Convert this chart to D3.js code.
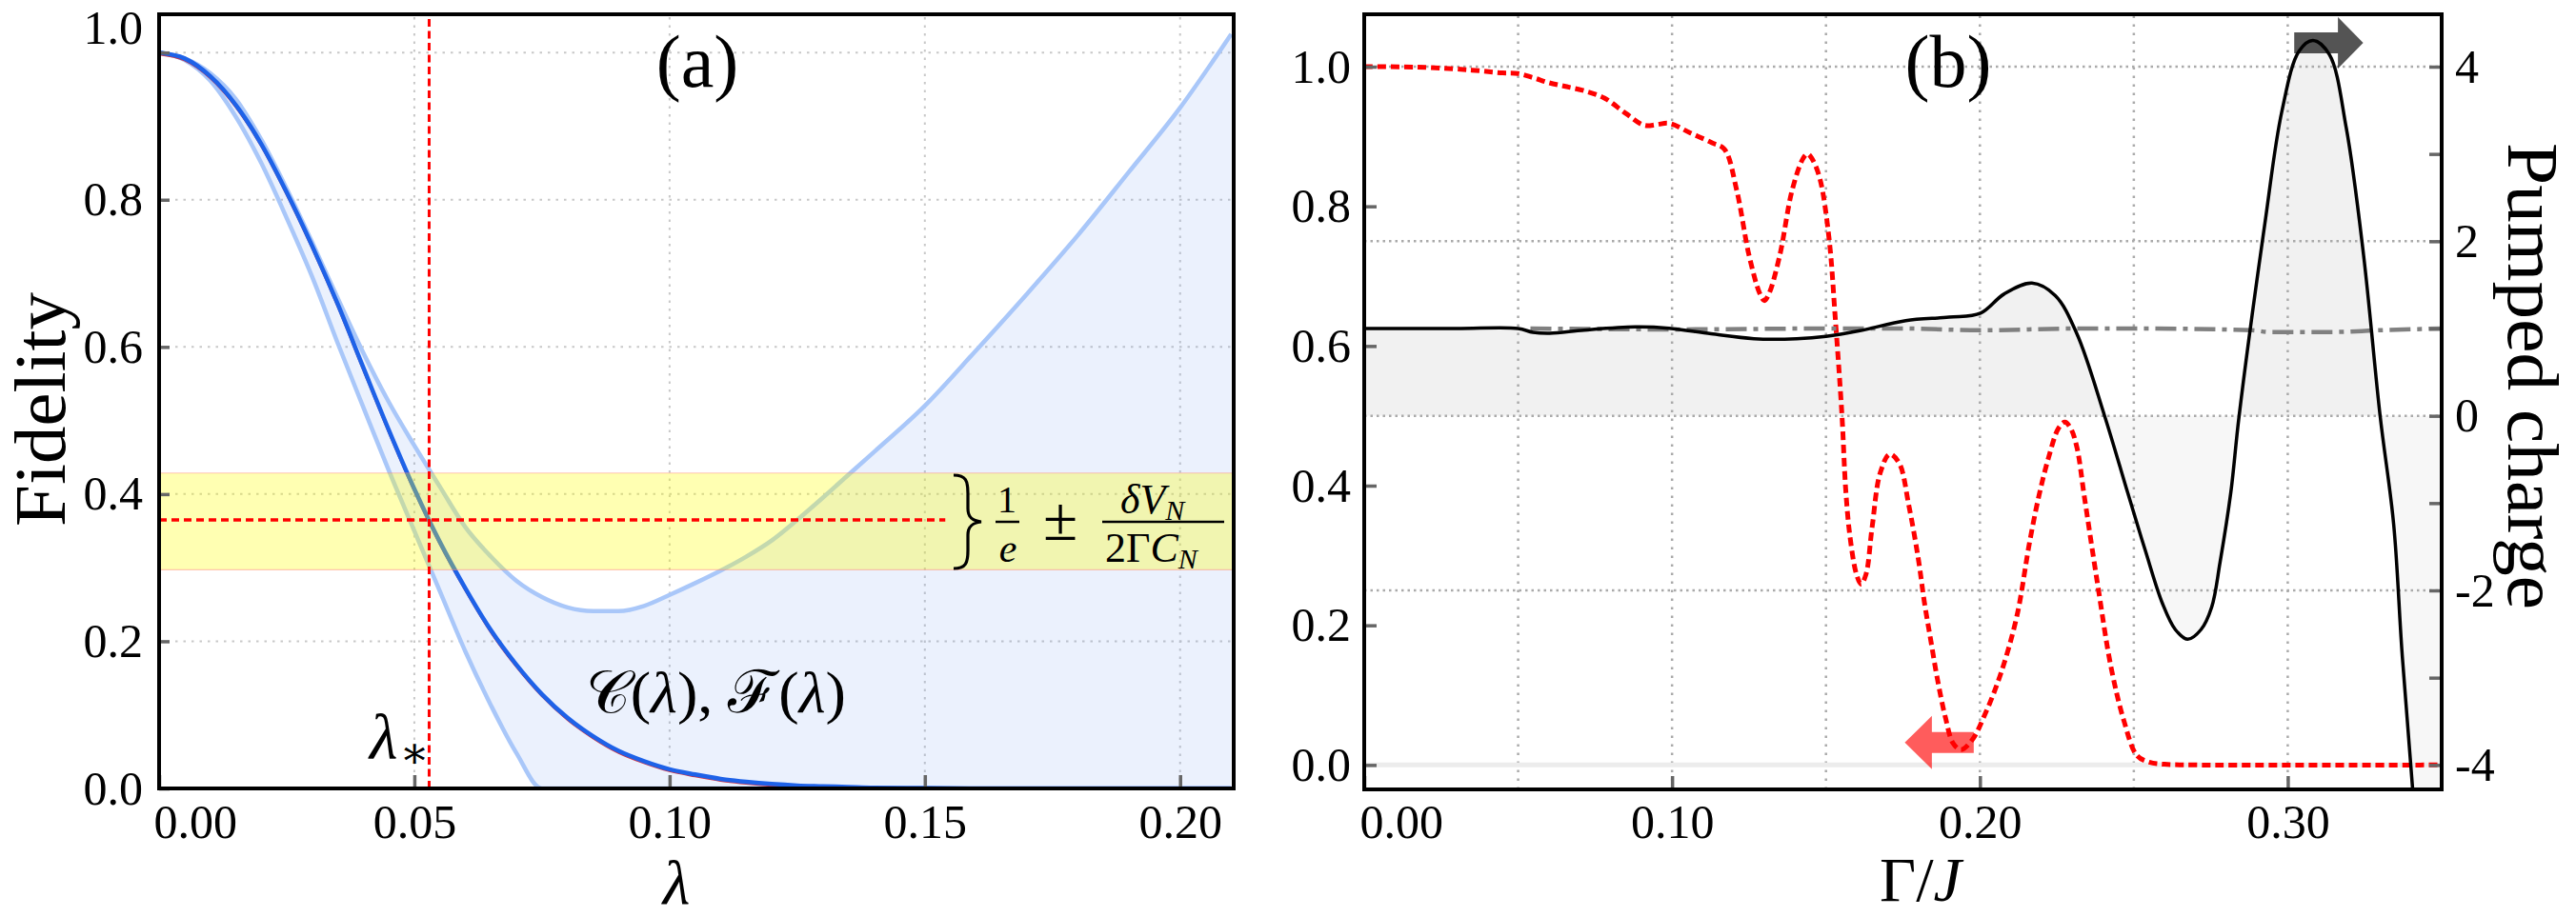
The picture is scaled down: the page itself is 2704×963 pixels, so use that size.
<!DOCTYPE html>
<html>
<head>
<meta charset="utf-8">
<script src="https://cdn.jsdelivr.net/npm/d3@7"></script>
<style>
  body { margin: 0; background: #fff; }
  text { font-family: "Liberation Serif", "DejaVu Serif", serif; fill: #000; }
</style>
</head>
<body>
<svg id="fig" width="2704" height="963"></svg>
<script>
// ---------- panel (a) data : fidelity vs lambda ----------
const lam = [0, 0.005, 0.01, 0.015, 0.02, 0.025, 0.03, 0.035, 0.04, 0.045, 0.05, 0.055,
  0.06, 0.065, 0.07, 0.075, 0.08, 0.085, 0.09, 0.095, 0.10, 0.105, 0.11, 0.115, 0.12,
  0.125, 0.13, 0.135, 0.14, 0.15, 0.16, 0.17, 0.18, 0.19, 0.20, 0.21];
const fidMain = [1.0, 0.992, 0.968, 0.929, 0.876, 0.81, 0.737, 0.658, 0.572, 0.487, 0.407, 0.335,
  0.272, 0.215, 0.168, 0.128, 0.096, 0.071, 0.051, 0.037, 0.026, 0.019, 0.013, 0.009, 0.006,
  0.004, 0.003, 0.002, 0.001, 0.0005, 0, 0, 0, 0, 0, 0];
const fidUpper = [1.0, 0.992, 0.972, 0.937, 0.882, 0.815, 0.742, 0.666, 0.592, 0.525, 0.466, 0.41,
  0.355, 0.315, 0.282, 0.26, 0.246, 0.241, 0.241, 0.248, 0.263, 0.279, 0.296, 0.315, 0.337,
  0.365, 0.395, 0.426, 0.457, 0.52, 0.595, 0.672, 0.752, 0.838, 0.925, 1.025];
const fidLower = [1.0, 0.99, 0.962, 0.913, 0.85, 0.775, 0.695, 0.605, 0.518, 0.432, 0.35, 0.268,
  0.186, 0.113, 0.048, 0, 0, 0, 0, 0, 0, 0, 0, 0, 0,
  0, 0, 0, 0, 0, 0, 0, 0, 0, 0, 0];
const lamStar = 0.0529;
const invE = 0.365;
const bandLo = 0.297, bandHi = 0.4286;
const lamLineEnd = 0.154;
const lamTicks = [0, 0.05, 0.10, 0.15, 0.20];
const lamGrid = [0.05, 0.10, 0.15, 0.20];
const fidTicksA = [0, 0.2, 0.4, 0.6, 0.8, 1.0];

// ---------- panel (b) data : fidelity (left) and pumped charge (right) vs Gamma/J ----------
const gamRed = [0, 0.02, 0.035, 0.045, 0.05, 0.055, 0.06, 0.065, 0.071, 0.078, 0.085, 0.091,
  0.095, 0.099, 0.106, 0.113, 0.117, 0.121, 0.125, 0.1285, 0.130, 0.1315, 0.135, 0.139,
  0.1425, 0.144, 0.1455, 0.148, 0.151, 0.153, 0.1552, 0.1564, 0.1578, 0.1599, 0.1614, 0.163,
  0.165, 0.1676, 0.1707, 0.1738, 0.1769, 0.18, 0.182, 0.1841, 0.1862, 0.1888, 0.1913, 0.1939,
  0.1975, 0.2016, 0.2068, 0.212, 0.2161, 0.2192, 0.2223, 0.2255, 0.2276, 0.2295, 0.2315,
  0.234, 0.2384, 0.2426, 0.2468, 0.251, 0.255, 0.26, 0.27, 0.35];
const fidRed = [1.0, 0.999, 0.995, 0.991, 0.99, 0.984, 0.977, 0.972, 0.966, 0.955, 0.933, 0.916,
  0.917, 0.919, 0.905, 0.891, 0.882, 0.823, 0.73, 0.675, 0.665, 0.675, 0.73, 0.823,
  0.868, 0.875, 0.868, 0.84, 0.754, 0.641, 0.50, 0.395, 0.327, 0.273, 0.259, 0.273,
  0.341, 0.418, 0.445, 0.432, 0.372, 0.295, 0.232, 0.177, 0.123, 0.068, 0.031, 0.022,
  0.036, 0.072, 0.131, 0.213, 0.318, 0.386, 0.44, 0.482, 0.491, 0.482, 0.455,
  0.382, 0.254, 0.14, 0.063, 0.0136, 0.004, 0.001, 0, 0];

const gamBlack = [0, 0.03, 0.05, 0.0548, 0.0603, 0.0714, 0.088, 0.099, 0.1127, 0.1266, 0.1405,
  0.150, 0.161, 0.1759, 0.19, 0.2002, 0.2078, 0.2169, 0.2245, 0.2315, 0.2405, 0.248, 0.2537,
  0.2593, 0.2635, 0.2675, 0.2718, 0.2753, 0.278, 0.2815, 0.2842, 0.2926, 0.2981, 0.3037,
  0.3082, 0.3135, 0.319, 0.3246, 0.330, 0.3344, 0.3371, 0.3406, 0.345, 0.35];
const qBlack = [1.0, 1.0, 1.0, 0.957, 0.946, 0.982, 1.019, 1.004, 0.939, 0.884, 0.884,
  0.91, 0.975, 1.09, 1.13, 1.176, 1.394, 1.52, 1.376, 0.94, 0.0, -0.88, -1.54,
  -2.15, -2.45, -2.56, -2.45, -2.19, -1.68, -0.88, 0.0, 2.21, 3.49, 4.18,
  4.30, 4.14, 3.30, 1.85, 0.0, -1.24, -2.7, -4.29, -6.2, -8.0];

const gamDash = [0.054, 0.10, 0.15, 0.176, 0.20, 0.2315, 0.2535, 0.2885, 0.294, 0.3148, 0.3294, 0.35];
const qDash = [1.0, 0.99, 1.0, 1.0, 0.98, 1.0, 1.0, 0.98, 0.96, 0.96, 0.98, 1.0];

const gamTicks = [0, 0.10, 0.20, 0.30];
const gamGrid = [0.05, 0.10, 0.15, 0.20, 0.25, 0.30];
const fidTicksB = [0, 0.2, 0.4, 0.6, 0.8, 1.0];
const qTicks = [-4, -3, -2, -1, 0, 1, 2, 3, 4];
const qGrid = [-2, 0, 2, 4];

const svg = d3.select("#fig");
const defs = svg.append("defs");
const serif = "Liberation Serif";

// ================= panel (a) =================
const xA = d3.scaleLinear().domain([0, 0.2105]).range([167, 1295]);
const yA = d3.scaleLinear().domain([0, 1.052]).range([828, 15]);

defs.append("clipPath").attr("id", "clipA").append("rect")
  .attr("x", xA.range()[0]).attr("y", yA.range()[1])
  .attr("width", xA.range()[1] - xA.range()[0]).attr("height", yA.range()[0] - yA.range()[1]);

const gA = svg.append("g").attr("clip-path", "url(#clipA)");

// grid
gA.selectAll(".vgrid").data(lamGrid).join("line")
  .attr("x1", d => xA(d)).attr("x2", d => xA(d))
  .attr("y1", yA.range()[0]).attr("y2", yA.range()[1])
  .attr("stroke", "#c8c8c8").attr("stroke-width", 2).attr("stroke-dasharray", "2.5,6");
gA.selectAll(".hgrid").data([0.2, 0.4, 0.6, 0.8, 1.0]).join("line")
  .attr("x1", xA.range()[0]).attr("x2", xA.range()[1])
  .attr("y1", d => yA(d)).attr("y2", d => yA(d))
  .attr("stroke", "#c8c8c8").attr("stroke-width", 2).attr("stroke-dasharray", "2.5,6");

// band between the bounds
const areaA = d3.area()
  .x((d, i) => xA(lam[i]))
  .y0((d, i) => yA(fidLower[i]))
  .y1(d => yA(d))
  .curve(d3.curveMonotoneX);
gA.append("path").datum(fidUpper).attr("d", areaA)
  .attr("fill", "#6495ed").attr("fill-opacity", 0.13);

const lineA = d3.line().x((d, i) => xA(lam[i])).y(d => yA(d)).curve(d3.curveMonotoneX);
gA.append("path").datum(fidLower).attr("d", lineA)
  .attr("fill", "none").attr("stroke", "#a9c7f9").attr("stroke-width", 4.5);
gA.append("path").datum(fidUpper).attr("d", lineA)
  .attr("fill", "none").attr("stroke", "#a9c7f9").attr("stroke-width", 4.5);
gA.append("path").datum(fidMain).attr("d", lineA).attr("transform", "translate(0,1.5)")
  .attr("fill", "none").attr("stroke", "#d03040").attr("stroke-width", 3);
gA.append("path").datum(fidMain).attr("d", lineA)
  .attr("fill", "none").attr("stroke", "#1e62e8").attr("stroke-width", 4.5);

// yellow 1/e band
gA.append("rect")
  .attr("x", xA.range()[0]).attr("width", xA.range()[1] - xA.range()[0])
  .attr("y", yA(bandHi)).attr("height", yA(bandLo) - yA(bandHi))
  .attr("fill", "#ffff00").attr("fill-opacity", 0.3);
[bandLo, bandHi].forEach(v => {
  gA.append("line")
    .attr("x1", xA.range()[0]).attr("x2", xA.range()[1])
    .attr("y1", yA(v)).attr("y2", yA(v))
    .attr("stroke", "#ff8080").attr("stroke-opacity", 0.45).attr("stroke-width", 1.2);
});

// red guide lines
gA.append("line")
  .attr("x1", xA(lamStar)).attr("x2", xA(lamStar))
  .attr("y1", yA.range()[0]).attr("y2", yA.range()[1])
  .attr("stroke", "#ff0000").attr("stroke-width", 3).attr("stroke-dasharray", "8,4.5");
gA.append("line")
  .attr("x1", xA(0)).attr("x2", xA(lamLineEnd))
  .attr("y1", yA(invE)).attr("y2", yA(invE))
  .attr("stroke", "#ff0000").attr("stroke-width", 3.5).attr("stroke-dasharray", "8,5");

// axes (a)
const axLA = svg.append("g").attr("transform", `translate(${xA.range()[0]},0)`)
  .call(d3.axisLeft(yA).tickValues(fidTicksA).tickSize(-11).tickPadding(17).tickFormat(d3.format(".1f")));
const axBA = svg.append("g").attr("transform", `translate(0,${yA.range()[0]})`)
  .call(d3.axisBottom(xA).tickValues(lamTicks).tickSize(-14).tickFormat(d3.format(".2f")));
[axLA, axBA].forEach(g => {
  g.select(".domain").remove();
  g.attr("font-family", serif).attr("font-size", 50);
  g.selectAll(".tick line").attr("stroke", "#666").attr("stroke-width", 3.5);
  g.selectAll(".tick text").attr("fill", "#000");
});
axBA.selectAll(".tick text").attr("y", 52).attr("dy", null);
axBA.selectAll(".tick text").filter(d => d === 0).attr("text-anchor", "start").attr("x", -6);
axLA.selectAll(".tick text").filter(d => d === 1).attr("y", -26);

svg.append("rect")
  .attr("x", xA.range()[0]).attr("y", yA.range()[1])
  .attr("width", xA.range()[1] - xA.range()[0]).attr("height", yA.range()[0] - yA.range()[1])
  .attr("fill", "none").attr("stroke", "#000").attr("stroke-width", 4);

// labels (a)
svg.append("text").attr("x", 732).attr("y", 91).attr("text-anchor", "middle")
  .attr("font-size", 78).text("(a)");
svg.append("text").attr("transform", "translate(68,430) rotate(-90)")
  .attr("text-anchor", "middle").attr("font-size", 76)
  .attr("textLength", 246).attr("lengthAdjust", "spacingAndGlyphs").text("Fidelity");
svg.append("text").attr("x", 710).attr("y", 949).attr("text-anchor", "middle")
  .attr("font-size", 66).attr("font-style", "italic").text("λ");
const ls = svg.append("text").attr("x", 388).attr("y", 797).attr("font-size", 68);
ls.append("tspan").attr("font-style", "italic").text("λ");
ls.append("tspan").attr("font-size", 46).attr("dy", 9).attr("dx", 2).text("∗");
const cf = svg.append("text").attr("x", 615).attr("y", 748).attr("font-size", 62)
  .attr("textLength", 273).attr("lengthAdjust", "spacingAndGlyphs");
cf.append("tspan").text("𝒞(");
cf.append("tspan").attr("font-style", "italic").text("λ");
cf.append("tspan").text("), ℱ(");
cf.append("tspan").attr("font-style", "italic").text("λ");
cf.append("tspan").text(")");

// brace + 1/e ± dV/(2 Gamma C) annotation
svg.append("path")
  .attr("d", "M1001,499 C1014,499 1016,505 1016,518 L1016,534 C1016,543 1020,547 1030,548 C1020,549 1016,553 1016,562 L1016,578 C1016,591 1014,597 1001,597")
  .attr("fill", "none").attr("stroke", "#000").attr("stroke-width", 3.2);
svg.append("text").attr("x", 1057).attr("y", 538).attr("text-anchor", "middle").attr("font-size", 40).text("1");
svg.append("line").attr("x1", 1045).attr("x2", 1070).attr("y1", 548).attr("y2", 548)
  .attr("stroke", "#000").attr("stroke-width", 2.5);
svg.append("text").attr("x", 1058).attr("y", 590).attr("text-anchor", "middle").attr("font-size", 42)
  .attr("font-style", "italic").text("e");
svg.append("text").attr("x", 1113).attr("y", 567).attr("text-anchor", "middle").attr("font-size", 66).text("±");
const num = svg.append("text").attr("x", 1176).attr("y", 539).attr("font-size", 44).attr("font-style", "italic");
num.append("tspan").text("δV");
num.append("tspan").attr("font-size", 30).attr("dy", 7).text("N");
svg.append("line").attr("x1", 1157).attr("x2", 1285).attr("y1", 548).attr("y2", 548)
  .attr("stroke", "#000").attr("stroke-width", 2.5);
const den = svg.append("text").attr("x", 1160).attr("y", 590).attr("font-size", 44);
den.append("tspan").text("2Γ");
den.append("tspan").attr("font-style", "italic").text("C");
den.append("tspan").attr("font-style", "italic").attr("font-size", 30).attr("dy", 7).text("N");

// ================= panel (b) =================
const xB = d3.scaleLinear().domain([0, 0.35]).range([1432, 2563]);
const yBL = d3.scaleLinear().domain([-0.035, 1.075]).range([829, 15]);
const yBR = d3.scaleLinear().domain([-4.28, 4.6]).range([829, 15]);

defs.append("clipPath").attr("id", "clipB").append("rect")
  .attr("x", xB.range()[0]).attr("y", yBL.range()[1])
  .attr("width", xB.range()[1] - xB.range()[0]).attr("height", yBL.range()[0] - yBL.range()[1]);
defs.append("clipPath").attr("id", "clipPos").append("rect")
  .attr("x", xB.range()[0]).attr("y", yBL.range()[1])
  .attr("width", xB.range()[1] - xB.range()[0]).attr("height", yBR(0) - yBL.range()[1]);
defs.append("clipPath").attr("id", "clipNeg").append("rect")
  .attr("x", xB.range()[0]).attr("y", yBR(0))
  .attr("width", xB.range()[1] - xB.range()[0]).attr("height", yBL.range()[0] - yBR(0));

const gB = svg.append("g").attr("clip-path", "url(#clipB)");

// pumped charge filled to zero
const areaB = d3.area()
  .x((d, i) => xB(gamBlack[i]))
  .y0(yBR(0))
  .y1(d => yBR(d))
  .curve(d3.curveCatmullRom.alpha(0.5));
gB.append("path").datum(qBlack).attr("d", areaB).attr("clip-path", "url(#clipPos)")
  .attr("fill", "#000").attr("fill-opacity", 0.055);
gB.append("path").datum(qBlack).attr("d", areaB).attr("clip-path", "url(#clipNeg)")
  .attr("fill", "#000").attr("fill-opacity", 0.03);

// grid
gB.selectAll(".vgrid").data(gamGrid).join("line")
  .attr("x1", d => xB(d)).attr("x2", d => xB(d))
  .attr("y1", yBL.range()[0]).attr("y2", yBL.range()[1])
  .attr("stroke", "#aaa").attr("stroke-width", 2.5).attr("stroke-dasharray", "2.5,6.5");
gB.selectAll(".hgrid").data(qGrid).join("line")
  .attr("x1", xB.range()[0]).attr("x2", xB.range()[1])
  .attr("y1", d => yBR(d)).attr("y2", d => yBR(d))
  .attr("stroke", "#aaa").attr("stroke-width", 2.5).attr("stroke-dasharray", "2.5,4");
gB.append("line")
  .attr("x1", xB.range()[0]).attr("x2", xB.range()[1])
  .attr("y1", yBL(0)).attr("y2", yBL(0))
  .attr("stroke", "#ececec").attr("stroke-width", 5);

// curves
const lineRed = d3.line().x((d, i) => xB(gamRed[i])).y(d => yBL(d)).curve(d3.curveCatmullRom.alpha(0.5));
gB.append("path").datum(fidRed).attr("d", lineRed)
  .attr("fill", "none").attr("stroke", "#ff0000").attr("stroke-width", 5).attr("stroke-dasharray", "9,5");

const lineDash = d3.line().x((d, i) => xB(gamDash[i])).y(d => yBR(d)).curve(d3.curveMonotoneX);
gB.append("path").datum(qDash).attr("d", lineDash)
  .attr("fill", "none").attr("stroke", "#808080").attr("stroke-width", 4.5).attr("stroke-dasharray", "22,7,5,7");

const lineBlack = d3.line().x((d, i) => xB(gamBlack[i])).y(d => yBR(d)).curve(d3.curveCatmullRom.alpha(0.5));
gB.append("path").datum(qBlack).attr("d", lineBlack)
  .attr("fill", "none").attr("stroke", "#000").attr("stroke-width", 3.5);

// arrows showing which axis each curve belongs to
function arrow(xTail, xNeck, xTip, yc, body, head, color, op) {
  const pts = [[xTail, yc - body], [xNeck, yc - body], [xNeck, yc - head], [xTip, yc],
    [xNeck, yc + head], [xNeck, yc + body], [xTail, yc + body]];
  gB.append("path").attr("d", d3.line()(pts) + "Z").attr("fill", color).attr("fill-opacity", op);
}
arrow(xB(0.3021), xB(0.3163), xB(0.3245), yBL(1.034), 11, 27, "#000", 0.67);
arrow(xB(0.198), xB(0.1844), xB(0.1756), yBL(0.032), 11, 28, "#ff0000", 0.64);

// axes (b)
const axLB = svg.append("g").attr("transform", `translate(${xB.range()[0]},0)`)
  .call(d3.axisLeft(yBL).tickValues(fidTicksB).tickSize(-13).tickPadding(14).tickFormat(d3.format(".1f")));
const axRB = svg.append("g").attr("transform", `translate(${xB.range()[1]},0)`)
  .call(d3.axisRight(yBR).tickValues(qTicks).tickSize(-13).tickPadding(14)
    .tickFormat(d => d % 2 === 0 ? String(d) : ""));
const axBB = svg.append("g").attr("transform", `translate(0,${yBL.range()[0]})`)
  .call(d3.axisBottom(xB).tickValues(gamTicks).tickSize(-14).tickFormat(d3.format(".2f")));
[axLB, axRB, axBB].forEach(g => {
  g.select(".domain").remove();
  g.attr("font-family", serif).attr("font-size", 50);
  g.selectAll(".tick line").attr("stroke", "#666").attr("stroke-width", 3.5);
  g.selectAll(".tick text").attr("fill", "#000");
});
axBB.selectAll(".tick text").attr("y", 51).attr("dy", null);
axBB.selectAll(".tick text").filter(d => d === 0).attr("text-anchor", "start").attr("x", -5);

svg.append("rect")
  .attr("x", xB.range()[0]).attr("y", yBL.range()[1])
  .attr("width", xB.range()[1] - xB.range()[0]).attr("height", yBL.range()[0] - yBL.range()[1])
  .attr("fill", "none").attr("stroke", "#000").attr("stroke-width", 4);

// labels (b)
svg.append("text").attr("x", 2045).attr("y", 91).attr("text-anchor", "middle")
  .attr("font-size", 78).text("(b)");
svg.append("text").attr("transform", "translate(2633,395) rotate(90)")
  .attr("text-anchor", "middle").attr("font-size", 76)
  .attr("textLength", 490).attr("lengthAdjust", "spacingAndGlyphs").text("Pumped charge");
const gj = svg.append("text").attr("x", 1973).attr("y", 946).attr("font-size", 66);
gj.append("tspan").text("Γ/");
gj.append("tspan").attr("font-style", "italic").text("J");
</script>
</body>
</html>
